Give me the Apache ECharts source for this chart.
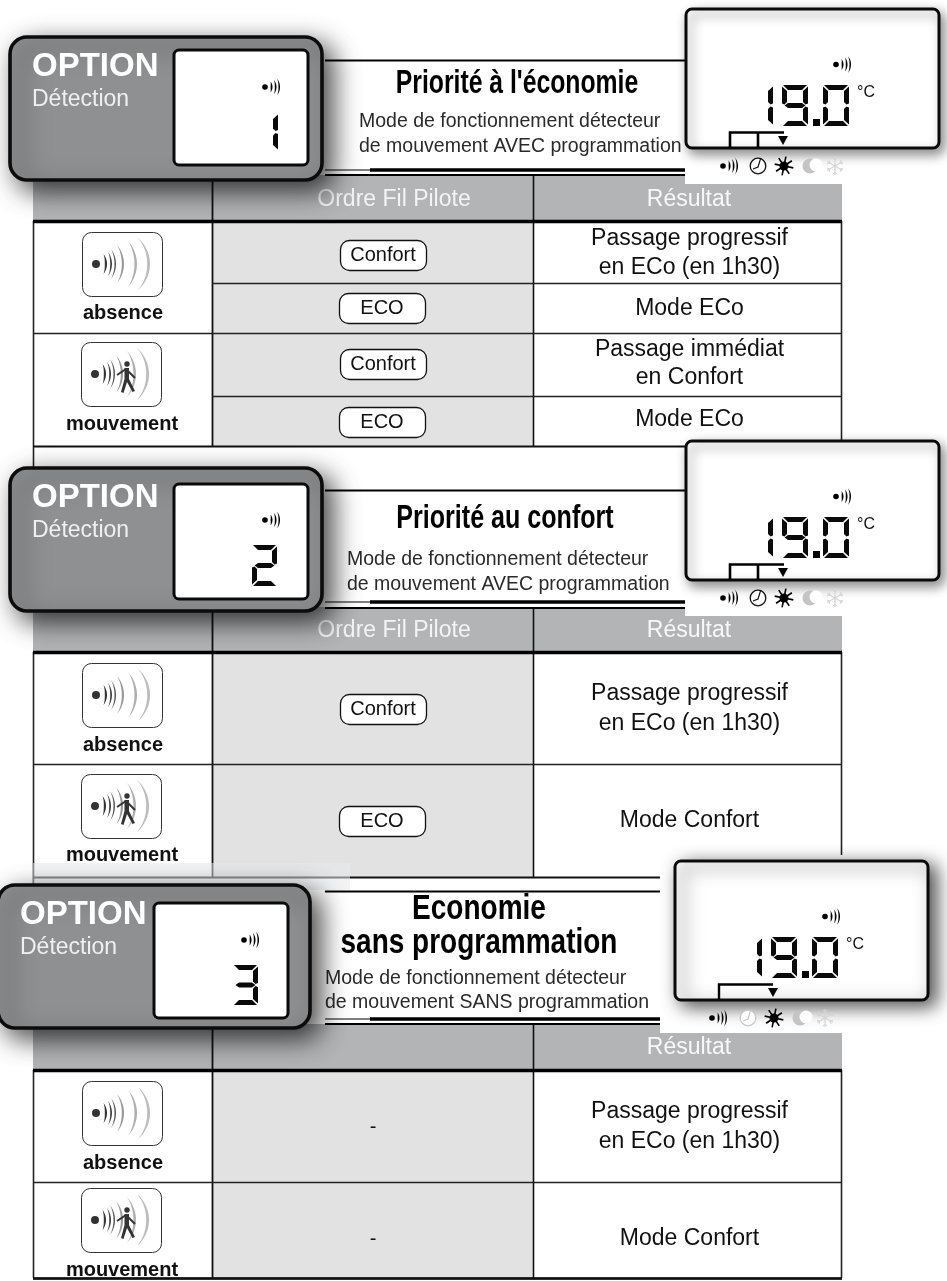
<!DOCTYPE html>
<html><head><meta charset="utf-8">
<style>html,body{margin:0;padding:0;background:#fff}#c{width:947px;height:1281px}</style>
<script src="https://cdn.jsdelivr.net/npm/echarts@6/dist/echarts.min.js"></script>
</head><body><div id="c"></div>
<script>
// ---- content ----
const optionLabel = 'OPTION';
const optionSub = 'Détection';
const optionDigits = ['1', '2', '3'];
const panelTitles = [["Priorité à l'économie"], ['Priorité au confort'], ['Economie', 'sans programmation']];
const panelNotes = [
  ['Mode de fonctionnement détecteur', 'de mouvement AVEC programmation'],
  ['Mode de fonctionnement détecteur', 'de mouvement AVEC programmation'],
  ['Mode de fonctionnement détecteur', 'de mouvement SANS programmation']
];
const headerOrder = ['Ordre Fil Pilote', 'Ordre Fil Pilote', ''];
const headerResult = 'Résultat';
const sensorLabels = ['absence', 'mouvement'];
const orders1 = ['Confort', 'ECO', 'Confort', 'ECO'];
const orders2 = ['Confort', 'ECO'];
const orders3 = ['-', '-'];
const results1 = [['Passage progressif', 'en ECo (en 1h30)'], ['Mode ECo'], ['Passage immédiat', 'en Confort'], ['Mode ECo']];
const results2 = [['Passage progressif', 'en ECo (en 1h30)'], ['Mode Confort']];
const results3 = [['Passage progressif', 'en ECo (en 1h30)'], ['Mode Confort']];
const lcdReading = '19.0';
const lcdUnit = '°C';

// ---- helpers ----
const els = [];
const FONT = '"Liberation Sans", Arial, sans-serif';
const rect = (x, y, w, h, fill) => els.push({type:'rect', silent:true, shape:{x, y, width:w, height:h}, style:{fill}});
const line = (x1, y1, x2, y2, stroke, lineWidth) => els.push({type:'line', silent:true, shape:{x1, y1, x2, y2}, style:{stroke, lineWidth}});
const poly = (points, fill) => els.push({type:'polygon', silent:true, shape:{points}, style:{fill}});
const pline = (points, stroke, lineWidth) => els.push({type:'polyline', silent:true, shape:{points}, style:{stroke, lineWidth, fill:null, lineJoin:'miter'}});
const circ = (cx, cy, r, style) => els.push({type:'circle', silent:true, shape:{cx, cy, r}, style});
const text = (x, y, t, font, fill, align, sx) => els.push({type:'text', silent:true, x, y:y+2, scaleX:sx||1, style:{text:t, font, fill, textAlign:align||'center', textVerticalAlign:'middle', verticalAlign:'middle'}});

// tapered arc: peak at px, half height h, sagitta s, max thickness th
function crescent(px, cy, h, s, th, fill) {
  const R = (h*h + s*s) / (2*s), cx = px - R, m = Math.asin(Math.min(1, h/R)), out = [], inn = [], n = 16;
  for (let i = 0; i <= n; i++) {
    const a = -m + 2*m*i/n, tap = Math.cos(Math.PI*(i/n - .5));
    out.push([cx + R*Math.cos(a), cy + R*Math.sin(a)]);
    inn.unshift([cx + (R - th*tap)*Math.cos(a), cy + (R - th*tap)*Math.sin(a)]);
  }
  poly(out.concat(inn), fill);
}
function smallWaves(x, cy, col) {
  circ(x, cy, 2.8, {fill:col});
  crescent(x+7.5, cy, 5.5, 2, 1.9, col);
  crescent(x+11.5, cy, 7, 2.5, 1.7, col);
  crescent(x+15, cy, 8.5, 3, 1.5, col);
}
const SEG = {'0':'abcdef','1':'bc','2':'abged','3':'abgcd','9':'abcdfg'};
function digit(ch, x, y, w, h) {
  const t = 5, ym = y + h/2, r = x + w, b = y + h, on = SEG[ch], f = '#0a0a0a';
  if (on.includes('a')) poly([[x+1,y],[r-1,y],[r-t-1,y+t],[x+t+1,y+t]], f);
  if (on.includes('d')) poly([[x+1,b],[r-1,b],[r-t-1,b-t],[x+t+1,b-t]], f);
  if (on.includes('g')) poly([[x+2.5,ym],[x+t+1,ym-t/2],[r-t-1,ym-t/2],[r-2.5,ym],[r-t-1,ym+t/2],[x+t+1,ym+t/2]], f);
  if (on.includes('b')) poly([[r,y+1.5],[r,ym-2],[r-t/2,ym-1],[r-t,ym-t/2-1],[r-t,y+t+1]], f);
  if (on.includes('c')) poly([[r,b-1.5],[r,ym+2],[r-t/2,ym+1],[r-t,ym+t/2+1],[r-t,b-t-1]], f);
  if (on.includes('f')) poly([[x,y+1.5],[x,ym-2],[x+t/2,ym-1],[x+t,ym-t/2-1],[x+t,y+t+1]], f);
  if (on.includes('e')) poly([[x,b-1.5],[x,ym+2],[x+t/2,ym+1],[x+t,ym+t/2+1],[x+t,b-t-1]], f);
}
function tile(x, y, moving, label, labelY) {
  els.push({type:'rect', silent:true, shape:{x:x+.5, y:y+.5, width:80, height:64, r:9}, style:{fill:'#fff', stroke:'#333', lineWidth:1}});
  const cy = y + 32, d = x + 14;
  circ(d, cy, 4, {fill:'#333'});
  crescent(d+11, cy, 10, 3.5, 2.2, '#333');
  crescent(d+16, cy, 12, 4, 1.8, '#444');
  crescent(d+20, cy, 15, 5, 1.5, '#555');
  crescent(d+28, cy, 19, 7, 2.2, '#999');
  crescent(d+41, cy, 23, 9, 2.6, '#b0b0b0');
  crescent(d+54, cy, 26, 12, 2.8, '#bdbdbd');
  if (moving) {
    const px = x + 46, top = y + 22;
    circ(px, top, 2.7, {fill:'#333'});
    pline([[px-10,top+11],[px-1,top+5],[px+8,top+14]], '#333', 2);
    poly([[px-2.5,top+4],[px+2,top+4],[px+2,top+15],[px+8,top+27],[px+5.5,top+28],[px,top+18],[px-3.5,top+29],[px-6,top+28],[px-2.5,top+15]], '#333');
  }
  text(x+41, labelY-1, label, 'bold 20px ' + FONT, '#111');
}
function pill(x, y, label) {
  els.push({type:'rect', silent:true, shape:{x:x+.5, y:y+.5, width:86, height:30, r:9}, style:{fill:'#fff', stroke:'#111', lineWidth:1.3}});
  text(x+43, y+13, label, '20px ' + FONT, '#111');
}
function sun(cx, cy) {
  circ(cx, cy, 4.5, {fill:'#000'});
  for (let i = 0; i < 8; i++) { const a = i*Math.PI/4 + .2; line(cx, cy, cx+9.5*Math.cos(a), cy+9.5*Math.sin(a), '#000', 1.6); }
}
function clock(cx, cy, col) {
  circ(cx, cy, 7.8, {fill:'#fff', stroke:col, lineWidth:1.3});
  pline([[cx+2.5,cy-7],[cx,cy+1],[cx-5,cy+3]], col, 1.2);
}
function moon(cx, cy) {
  circ(cx, cy, 7.5, {fill:'#c4c4c4'});
  circ(cx+6, cy-1, 6.5, {fill:'#fff'});
}
function snow(cx, cy) {
  const c = '#d4d4d4';
  for (let i = 0; i < 6; i++) {
    const a = Math.PI/2 + i*Math.PI/3, ca = Math.cos(a), sa = Math.sin(a);
    line(cx, cy, cx+9*ca, cy+9*sa, c, 1.2);
    const mx = cx+6*ca, my = cy+6*sa;
    line(mx, my, mx+3*Math.cos(a+.8), my+3*Math.sin(a+.8), c, 1);
    line(mx, my, mx+3*Math.cos(a-.8), my+3*Math.sin(a-.8), c, 1);
  }
}

// ---- layout of the three blocks ----
const COL = [33, 212, 533, 842];
const layouts = [
  {hTop:175, hBot:221, subRows:[283,396], midRow:333, bot:446, botEnd:686, leftEnd:470, rightEnd:440, rightStart:221,
   pills:[240,293,349,407], pillText:[[237,266],[307],[348,376],[418]],
   tiles:[[82,232,312],[81,342,423]], optX:9, optY:36, lcdS:[174,50], iconS:[265,87], digS:[253,113,25,38],
   titleX:517, titleY:[82], titleFont:33, titleScale:.75, noteX:359, noteY:[120,145], lineTop:60, lineBot:[170,175], lineEnd:686,
   hdrY:198, lcdX:686, lcdY:9},
  {hTop:607, hBot:652, subRows:[], midRow:764, bot:877, botEnd:660, leftEnd:890, rightEnd:855, rightStart:652,
   pills:[694,806], pillText:[[692,722],[819]],
   tiles:[[82,663,744],[81,774,854]], optX:9, optY:467, lcdS:[174,484], iconS:[265,520], digS:[252,545,25,41],
   titleX:505, titleY:[517], titleFont:33, titleScale:.76, noteX:347, noteY:[558,583], lineTop:490, lineBot:[602,608], lineEnd:686,
   hdrY:629, lcdX:686, lcdY:441},
  {hTop:1024, hBot:1070, subRows:[], midRow:1182, bot:1278, botEnd:842, leftEnd:1278, rightEnd:1278, rightStart:1070,
   pills:[], pillText:[[1110,1140],[1237]], dashY:[1125,1237],
   tiles:[[82,1081,1162],[81,1188,1269]], optX:-3, optY:884, lcdS:[154,903], iconS:[244,940], digS:[233,965,25,40],
   titleX:479, titleY:[907,941], titleFont:35, titleScale:.8, noteX:325, noteY:[977,1001], lineTop:891, lineBot:[1019,1024], lineEnd:660,
   hdrY:1046, lcdX:675, lcdY:861}
];
const orderLists = [orders1, orders2, orders3];
const resultLists = [results1, results2, results3];

// tables (below everything)
layouts.forEach((L, i) => {
  rect(COL[1], L.hBot, COL[2]-COL[1], L.bot-L.hBot, '#e2e2e2');
  rect(COL[0], L.hTop, COL[3]-COL[0], L.hBot-L.hTop, '#b3b4b6');
  line(COL[2]+.5, L.hTop, COL[2]+.5, L.bot, '#111', 1.6);
  line(COL[1]+.5, L.hTop, COL[1]+.5, L.bot, '#111', 1.8);
  line(COL[0]+.5, L.hBot, COL[0]+.5, L.leftEnd, '#222', 1.6);
  line(COL[3]-.5, L.rightStart, COL[3]-.5, L.rightEnd, '#222', 1.6);
  line(COL[0], L.hBot+.5, COL[3], L.hBot+.5, '#000', 3.5);
  L.subRows.forEach(y => line(COL[1], y+.5, COL[3], y+.5, '#222', 1.3));
  line(COL[0], L.midRow+.5, COL[3], L.midRow+.5, '#222', 1.5);
  line(COL[0], L.bot+.5, L.botEnd, L.bot+.5, '#111', 1.8);
  if (i === 2) line(COL[0], L.bot+.5, COL[3], L.bot+.5, '#111', 2.6);
  if (headerOrder[i]) text(394, L.hdrY, headerOrder[i], '23px ' + FONT, '#f4f4f4');
  text(689, L.hdrY, headerResult, '23px ' + FONT, '#f8f8f8');
  L.tiles.forEach((t, k) => tile(t[0], t[1], k === 1, sensorLabels[k], t[2]));
  orderLists[i].forEach((o, k) => {
    if (o === '-') text(373, L.dashY[k], o, '20px ' + FONT, '#111');
    else pill(o === 'ECO' ? 339 : 340, L.pills[k], o);
  });
  resultLists[i].forEach((lines, k) => lines.forEach((s, j) => text(689.5, L.pillText[k][j], s, '23px ' + FONT, '#111')));
});
// pale veil at the foot of table 2
rect(COL[0], 863, 317, 27, 'rgba(232,233,236,0.55)');

// title blocks, display boxes, option plates
layouts.forEach((L, i) => {
  line(325, L.lineTop+.5, L.lineEnd, L.lineTop+.5, '#000', 1.8);
  line(325, L.lineBot[0], 370, L.lineBot[0], '#555', 1.5);
  line(370, L.lineBot[0], L.lineEnd, L.lineBot[0], '#000', 3.6);
  line(325, L.lineBot[1], L.lineEnd, L.lineBot[1], '#000', 1.8);
  panelTitles[i].forEach((s, k) => text(L.titleX, L.titleY[k], s, 'bold ' + L.titleFont + 'px ' + FONT, '#000', 'center', L.titleScale));
  panelNotes[i].forEach((s, k) => text(L.noteX, L.noteY[k], s, '19.5px ' + FONT, '#2a2a2a', 'left'));

  // large display
  const X = L.lcdX, Y = L.lcdY, patchX = i === 2 ? 660 : X-1;
  rect(patchX, Y+10, COL[3]-patchX, L.hTop+9-Y-10, '#fff');
  els.push({type:'rect', silent:true, shape:{x:X, y:Y, width:253, height:139, r:6},
    style:{fill:'#fff', stroke:'#0a0a0a', lineWidth:3, shadowBlur:i===2?18:12, shadowOffsetX:i===2?7:4, shadowOffsetY:5, shadowColor:i===2?'rgba(0,0,0,.7)':'rgba(0,0,0,.45)'}});
  smallWaves(X+150, Y+55.5, '#000');
  let dx = X + 96;
  for (const ch of lcdReading) {
    if (ch === '1') digit('1', X+62, Y+76, 25, 41);
    else if (ch === '.') { rect(X+127, Y+110, 7, 7, '#000'); dx = X + 137; }
    else digit(ch, dx, Y+76, 26, 41);
  }
  text(X+171, Y+82, lcdUnit, '16px ' + FONT, '#111', 'left');
  // brackets, arrow, mode icons
  const iy = Y + 157, by = Y + 123.5, bb = Y + 138;
  if (i < 2) {
    pline([[X+44,bb],[X+44,by],[X+71,by]], '#000', 2.6);
    pline([[X+72,bb],[X+72,by],[X+98,by]], '#000', 2.6);
    poly([[X+92,Y+127],[X+102,Y+127],[X+97,Y+136]], '#000');
    smallWaves(X+37, iy, '#000');
    clock(X+72, iy, '#111');
    sun(X+98, iy);
    moon(X+124, iy);
    snow(X+149, iy);
  } else {
    pline([[X+44,bb],[X+44,by],[X+98,by]], '#000', 2.4);
    poly([[X+93,Y+127],[X+103,Y+127],[X+98,Y+136]], '#000');
    smallWaves(X+37, iy, '#000');
    clock(X+73, iy, '#c8c8c8');
    sun(X+99, iy);
    moon(X+125, iy);
    snow(X+150, iy);
  }

  // option plate
  els.push({type:'rect', silent:true, shape:{x:L.optX+1, y:L.optY+1, width:312, height:143, r:17},
    style:{fill:'#8f9092', stroke:'#0c0c0c', lineWidth:3.6, shadowBlur:26, shadowOffsetX:9, shadowOffsetY:9, shadowColor:'rgba(0,0,0,.72)'}});
  text(L.optX+23, L.optY+28.5, optionLabel, 'bold 33px ' + FONT, '#fff', 'left');
  text(L.optX+23, L.optY+62, optionSub, '23px ' + FONT, '#f0f0f0', 'left');
  els.push({type:'rect', silent:true, shape:{x:L.lcdS[0], y:L.lcdS[1], width:134, height:115, r:5},
    style:{fill:'#fff', stroke:'#0a0a0a', lineWidth:3}});
  smallWaves(L.iconS[0], L.iconS[1], '#000');
  digit(optionDigits[i], L.digS[0], L.digS[1], L.digS[2], L.digS[3]);
});

const chart = echarts.init(document.getElementById('c'), null, {renderer:'canvas', width:947, height:1281});
chart.setOption({animation:false, backgroundColor:'#fff', graphic:{elements:els}});
</script>
</body></html>
